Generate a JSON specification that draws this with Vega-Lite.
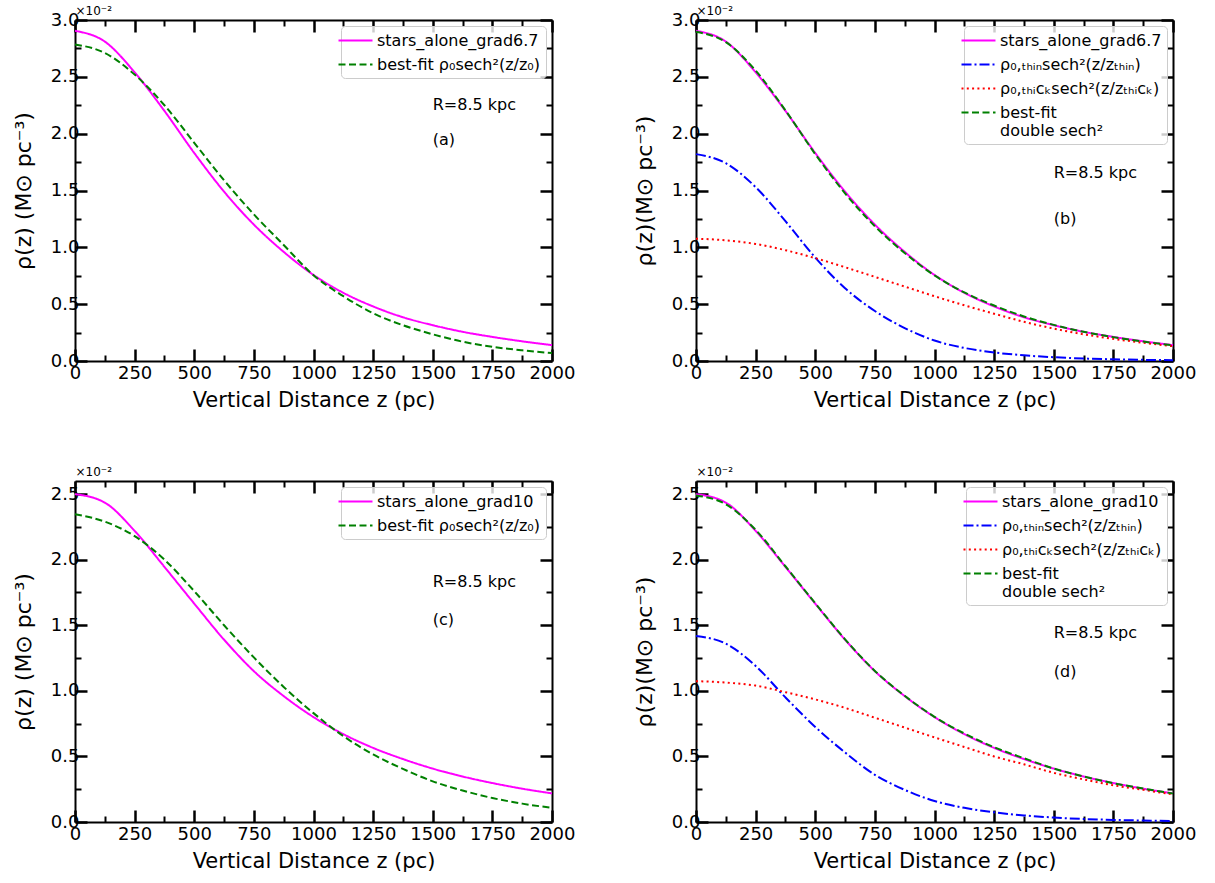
{
  "$schema": "https://vega.github.io/schema/vega-lite/v6.json",
  "padding": {"left": 12, "top": 4, "right": 5, "bottom": 5},
  "config": {
    "font": "DejaVu Sans",
    "view": {"stroke": null},
    "axis": {"grid": false, "domainColor": "black", "domainWidth": 2, "tickColor": "black", "labelColor": "black", "titleColor": "black", "titleFontWeight": "normal", "labelFontSize": 18, "titleFontSize": 21, "labelOverlap": false, "labelFlush": false},
    "legend": {"orient": "top-right", "offset": 6, "labelFontSize": 16, "labelColor": "black", "labelLimit": 400, "fillColor": "rgba(255,255,255,0.8)", "strokeColor": "#cccccc", "cornerRadius": 4, "padding": 5, "symbolType": "M-2,0H2", "symbolSize": 289, "symbolStrokeWidth": 2, "labelOffset": 12, "rowPadding": 6},
    "text": {"font": "DejaVu Sans"}
  },
  "datasets": {
    "curves": [
      {"p":"a","s":"m","z":0,"y":2.905},{"p":"a","s":"m","z":125,"y":2.81},{"p":"a","s":"m","z":250,"y":2.54},{"p":"a","s":"m","z":375,"y":2.2},{"p":"a","s":"m","z":500,"y":1.83},{"p":"a","s":"m","z":625,"y":1.49},{"p":"a","s":"m","z":750,"y":1.2},{"p":"a","s":"m","z":875,"y":0.96},{"p":"a","s":"m","z":1000,"y":0.757},{"p":"a","s":"m","z":1125,"y":0.6},{"p":"a","s":"m","z":1250,"y":0.48},{"p":"a","s":"m","z":1375,"y":0.385},{"p":"a","s":"m","z":1500,"y":0.315},{"p":"a","s":"m","z":1625,"y":0.257},{"p":"a","s":"m","z":1750,"y":0.212},{"p":"a","s":"m","z":1875,"y":0.173},{"p":"a","s":"m","z":2000,"y":0.14},
      {"p":"a","s":"g","z":0,"y":2.785},{"p":"a","s":"g","z":125,"y":2.71},{"p":"a","s":"g","z":250,"y":2.52},{"p":"a","s":"g","z":375,"y":2.25},{"p":"a","s":"g","z":500,"y":1.92},{"p":"a","s":"g","z":625,"y":1.59},{"p":"a","s":"g","z":750,"y":1.29},{"p":"a","s":"g","z":875,"y":1.02},{"p":"a","s":"g","z":1000,"y":0.755},{"p":"a","s":"g","z":1125,"y":0.57},{"p":"a","s":"g","z":1250,"y":0.42},{"p":"a","s":"g","z":1375,"y":0.315},{"p":"a","s":"g","z":1500,"y":0.235},{"p":"a","s":"g","z":1625,"y":0.17},{"p":"a","s":"g","z":1750,"y":0.125},{"p":"a","s":"g","z":1875,"y":0.094},{"p":"a","s":"g","z":2000,"y":0.07},
      {"p":"b","s":"m","z":0,"y":2.905},{"p":"b","s":"m","z":125,"y":2.81},{"p":"b","s":"m","z":250,"y":2.54},{"p":"b","s":"m","z":375,"y":2.2},{"p":"b","s":"m","z":500,"y":1.83},{"p":"b","s":"m","z":625,"y":1.49},{"p":"b","s":"m","z":750,"y":1.2},{"p":"b","s":"m","z":875,"y":0.96},{"p":"b","s":"m","z":1000,"y":0.757},{"p":"b","s":"m","z":1125,"y":0.6},{"p":"b","s":"m","z":1250,"y":0.48},{"p":"b","s":"m","z":1375,"y":0.385},{"p":"b","s":"m","z":1500,"y":0.315},{"p":"b","s":"m","z":1625,"y":0.257},{"p":"b","s":"m","z":1750,"y":0.212},{"p":"b","s":"m","z":1875,"y":0.173},{"p":"b","s":"m","z":2000,"y":0.14},
      {"p":"b","s":"t","z":0,"y":1.82},{"p":"b","s":"t","z":125,"y":1.74},{"p":"b","s":"t","z":250,"y":1.53},{"p":"b","s":"t","z":375,"y":1.23},{"p":"b","s":"t","z":500,"y":0.91},{"p":"b","s":"t","z":625,"y":0.64},{"p":"b","s":"t","z":750,"y":0.44},{"p":"b","s":"t","z":875,"y":0.29},{"p":"b","s":"t","z":1000,"y":0.18},{"p":"b","s":"t","z":1125,"y":0.115},{"p":"b","s":"t","z":1250,"y":0.075},{"p":"b","s":"t","z":1375,"y":0.05},{"p":"b","s":"t","z":1500,"y":0.033},{"p":"b","s":"t","z":1625,"y":0.022},{"p":"b","s":"t","z":1750,"y":0.015},{"p":"b","s":"t","z":1875,"y":0.01},{"p":"b","s":"t","z":2000,"y":0.007},
      {"p":"b","s":"k","z":0,"y":1.076},{"p":"b","s":"k","z":125,"y":1.062},{"p":"b","s":"k","z":250,"y":1.03},{"p":"b","s":"k","z":375,"y":0.975},{"p":"b","s":"k","z":500,"y":0.905},{"p":"b","s":"k","z":625,"y":0.825},{"p":"b","s":"k","z":750,"y":0.74},{"p":"b","s":"k","z":875,"y":0.655},{"p":"b","s":"k","z":1000,"y":0.57},{"p":"b","s":"k","z":1125,"y":0.49},{"p":"b","s":"k","z":1250,"y":0.416},{"p":"b","s":"k","z":1375,"y":0.345},{"p":"b","s":"k","z":1500,"y":0.285},{"p":"b","s":"k","z":1625,"y":0.235},{"p":"b","s":"k","z":1750,"y":0.195},{"p":"b","s":"k","z":1875,"y":0.16},{"p":"b","s":"k","z":2000,"y":0.13},
      {"p":"b","s":"g","z":0,"y":2.896},{"p":"b","s":"g","z":125,"y":2.805},{"p":"b","s":"g","z":250,"y":2.555},{"p":"b","s":"g","z":375,"y":2.205},{"p":"b","s":"g","z":500,"y":1.82},{"p":"b","s":"g","z":625,"y":1.475},{"p":"b","s":"g","z":750,"y":1.185},{"p":"b","s":"g","z":875,"y":0.95},{"p":"b","s":"g","z":1000,"y":0.753},{"p":"b","s":"g","z":1125,"y":0.603},{"p":"b","s":"g","z":1250,"y":0.488},{"p":"b","s":"g","z":1375,"y":0.392},{"p":"b","s":"g","z":1500,"y":0.318},{"p":"b","s":"g","z":1625,"y":0.257},{"p":"b","s":"g","z":1750,"y":0.21},{"p":"b","s":"g","z":1875,"y":0.171},{"p":"b","s":"g","z":2000,"y":0.138},
      {"p":"c","s":"m","z":0,"y":2.5},{"p":"c","s":"m","z":125,"y":2.435},{"p":"c","s":"m","z":250,"y":2.22},{"p":"c","s":"m","z":375,"y":1.945},{"p":"c","s":"m","z":500,"y":1.665},{"p":"c","s":"m","z":625,"y":1.39},{"p":"c","s":"m","z":750,"y":1.15},{"p":"c","s":"m","z":875,"y":0.96},{"p":"c","s":"m","z":1000,"y":0.8},{"p":"c","s":"m","z":1125,"y":0.67},{"p":"c","s":"m","z":1250,"y":0.565},{"p":"c","s":"m","z":1375,"y":0.48},{"p":"c","s":"m","z":1500,"y":0.407},{"p":"c","s":"m","z":1625,"y":0.347},{"p":"c","s":"m","z":1750,"y":0.297},{"p":"c","s":"m","z":1875,"y":0.254},{"p":"c","s":"m","z":2000,"y":0.218},
      {"p":"c","s":"g","z":0,"y":2.347},{"p":"c","s":"g","z":125,"y":2.29},{"p":"c","s":"g","z":250,"y":2.18},{"p":"c","s":"g","z":375,"y":2.0},{"p":"c","s":"g","z":500,"y":1.76},{"p":"c","s":"g","z":625,"y":1.5},{"p":"c","s":"g","z":750,"y":1.255},{"p":"c","s":"g","z":875,"y":1.03},{"p":"c","s":"g","z":1000,"y":0.83},{"p":"c","s":"g","z":1125,"y":0.655},{"p":"c","s":"g","z":1250,"y":0.515},{"p":"c","s":"g","z":1375,"y":0.405},{"p":"c","s":"g","z":1500,"y":0.31},{"p":"c","s":"g","z":1625,"y":0.24},{"p":"c","s":"g","z":1750,"y":0.183},{"p":"c","s":"g","z":1875,"y":0.14},{"p":"c","s":"g","z":2000,"y":0.108},
      {"p":"d","s":"m","z":0,"y":2.5},{"p":"d","s":"m","z":125,"y":2.435},{"p":"d","s":"m","z":250,"y":2.22},{"p":"d","s":"m","z":375,"y":1.945},{"p":"d","s":"m","z":500,"y":1.665},{"p":"d","s":"m","z":625,"y":1.39},{"p":"d","s":"m","z":750,"y":1.15},{"p":"d","s":"m","z":875,"y":0.96},{"p":"d","s":"m","z":1000,"y":0.8},{"p":"d","s":"m","z":1125,"y":0.67},{"p":"d","s":"m","z":1250,"y":0.565},{"p":"d","s":"m","z":1375,"y":0.48},{"p":"d","s":"m","z":1500,"y":0.407},{"p":"d","s":"m","z":1625,"y":0.347},{"p":"d","s":"m","z":1750,"y":0.297},{"p":"d","s":"m","z":1875,"y":0.254},{"p":"d","s":"m","z":2000,"y":0.218},
      {"p":"d","s":"t","z":0,"y":1.418},{"p":"d","s":"t","z":125,"y":1.36},{"p":"d","s":"t","z":250,"y":1.19},{"p":"d","s":"t","z":375,"y":0.95},{"p":"d","s":"t","z":500,"y":0.725},{"p":"d","s":"t","z":625,"y":0.53},{"p":"d","s":"t","z":750,"y":0.36},{"p":"d","s":"t","z":875,"y":0.245},{"p":"d","s":"t","z":1000,"y":0.16},{"p":"d","s":"t","z":1125,"y":0.108},{"p":"d","s":"t","z":1250,"y":0.074},{"p":"d","s":"t","z":1375,"y":0.05},{"p":"d","s":"t","z":1500,"y":0.034},{"p":"d","s":"t","z":1625,"y":0.023},{"p":"d","s":"t","z":1750,"y":0.016},{"p":"d","s":"t","z":1875,"y":0.011},{"p":"d","s":"t","z":2000,"y":0.007},
      {"p":"d","s":"k","z":0,"y":1.074},{"p":"d","s":"k","z":125,"y":1.063},{"p":"d","s":"k","z":250,"y":1.04},{"p":"d","s":"k","z":375,"y":0.99},{"p":"d","s":"k","z":500,"y":0.935},{"p":"d","s":"k","z":625,"y":0.87},{"p":"d","s":"k","z":750,"y":0.795},{"p":"d","s":"k","z":875,"y":0.72},{"p":"d","s":"k","z":1000,"y":0.645},{"p":"d","s":"k","z":1125,"y":0.572},{"p":"d","s":"k","z":1250,"y":0.5},{"p":"d","s":"k","z":1375,"y":0.44},{"p":"d","s":"k","z":1500,"y":0.375},{"p":"d","s":"k","z":1625,"y":0.325},{"p":"d","s":"k","z":1750,"y":0.28},{"p":"d","s":"k","z":1875,"y":0.245},{"p":"d","s":"k","z":2000,"y":0.21},
      {"p":"d","s":"g","z":0,"y":2.49},{"p":"d","s":"g","z":125,"y":2.423},{"p":"d","s":"g","z":250,"y":2.228},{"p":"d","s":"g","z":375,"y":1.95},{"p":"d","s":"g","z":500,"y":1.668},{"p":"d","s":"g","z":625,"y":1.393},{"p":"d","s":"g","z":750,"y":1.152},{"p":"d","s":"g","z":875,"y":0.962},{"p":"d","s":"g","z":1000,"y":0.802},{"p":"d","s":"g","z":1125,"y":0.675},{"p":"d","s":"g","z":1250,"y":0.57},{"p":"d","s":"g","z":1375,"y":0.486},{"p":"d","s":"g","z":1500,"y":0.408},{"p":"d","s":"g","z":1625,"y":0.347},{"p":"d","s":"g","z":1750,"y":0.296},{"p":"d","s":"g","z":1875,"y":0.255},{"p":"d","s":"g","z":2000,"y":0.217}
    ]
  },
  "columns": 2,
  "spacing": {"row": 120, "column": 144},
  "bounds": "flush",
  "resolve": {"scale": {"x": "independent", "y": "independent", "color": "independent", "strokeDash": "independent"}, "legend": {"color": "independent", "strokeDash": "independent"}, "axis": {"x": "independent", "y": "independent"}},
  "concat": [
    {
      "width": 477, "height": 341,
      "data": {"name": "curves"},
      "layer": [
        {
          "transform": [{"filter": "datum.p == 'a'"}],
          "mark": {"type": "line", "strokeWidth": 2, "interpolate": "monotone"},
          "encoding": {
            "x": {"field": "z", "type": "quantitative", "scale": {"domain": [0, 2000], "nice": false, "zero": false},
              "axis": {"orient": "bottom", "values": [0,125,250,375,500,625,750,875,1000,1125,1250,1375,1500,1625,1750,1875,2000], "format": "d", "labelExpr": "datum.value % 250 == 0 ? datum.label : ''", "tickSize": {"condition": {"test": "datum.value % 250 == 0", "value": -12}, "value": -6}, "tickWidth": {"condition": {"test": "datum.value % 250 == 0", "value": 2.5}, "value": 2}, "labelPadding": 15, "title": "Vertical Distance z (pc)", "titlePadding": 1}},
            "y": {"field": "y", "type": "quantitative", "scale": {"domain": [0, 3], "nice": false},
              "axis": {"orient": "left", "values": [0,0.25,0.5,0.75,1,1.25,1.5,1.75,2,2.25,2.5,2.75,3], "format": ".1f", "labelExpr": "round(datum.value*4) % 2 == 0 ? datum.label : ''", "tickSize": {"condition": {"test": "round(datum.value*4) % 2 == 0", "value": -12}, "value": -6}, "tickWidth": {"condition": {"test": "round(datum.value*4) % 2 == 0", "value": 2.5}, "value": 2}, "labelPadding": 8, "title": "ρ(z) (M⊙ pc⁻³)", "titleFontSize": 22, "titlePadding": 15}},
            "color": {"field": "s", "type": "nominal", "scale": {"domain": ["m", "g"], "range": ["#ff00ff", "#008000"]}, "legend": {"title": null, "labelExpr": "datum.value == 'm' ? 'stars_alone_grad6.7' : 'best-fit ρ₀sech²(z/z₀)'"}},
            "strokeDash": {"field": "s", "type": "nominal", "scale": {"domain": ["m", "g"], "range": [[1, 0], [7, 3.5]]}, "legend": {"title": null, "labelExpr": "datum.value == 'm' ? 'stars_alone_grad6.7' : 'best-fit ρ₀sech²(z/z₀)'"}}
          }
        },
        {
          "transform": [{"filter": "datum.p == 'a'"}],
          "mark": {"type": "point", "opacity": 0},
          "encoding": {
            "x": {"field": "z", "type": "quantitative", "axis": {"orient": "top", "values": [0,125,250,375,500,625,750,875,1000,1125,1250,1375,1500,1625,1750,1875,2000], "labels": false, "tickSize": {"condition": {"test": "datum.value % 250 == 0", "value": -12}, "value": -6}, "tickWidth": {"condition": {"test": "datum.value % 250 == 0", "value": 2.5}, "value": 2}, "title": "×10⁻²", "titleFontSize": 12, "titleAnchor": "start", "titlePadding": 1}},
            "y": {"field": "y", "type": "quantitative", "axis": {"orient": "right", "values": [0,0.25,0.5,0.75,1,1.25,1.5,1.75,2,2.25,2.5,2.75,3], "labels": false, "tickSize": {"condition": {"test": "round(datum.value*4) % 2 == 0", "value": -12}, "value": -6}, "tickWidth": {"condition": {"test": "round(datum.value*4) % 2 == 0", "value": 2.5}, "value": 2}, "title": null}}
          }
        },
        {
          "data": {"values": [{"z": 1500, "y": 2.25, "t": "R=8.5 kpc"}, {"z": 1500, "y": 1.94, "t": "(a)"}]},
          "mark": {"type": "text", "align": "left", "baseline": "middle", "fontSize": 16, "color": "black"},
          "encoding": {"x": {"field": "z", "type": "quantitative", "axis": null}, "y": {"field": "y", "type": "quantitative", "axis": null}, "text": {"field": "t"}}
        }
      ],
      "resolve": {"axis": {"x": "independent", "y": "independent"}}
    },
    {
      "width": 477, "height": 341,
      "data": {"name": "curves"},
      "layer": [
        {
          "transform": [{"filter": "datum.p == 'b'"}],
          "mark": {"type": "line", "strokeWidth": 2, "interpolate": "monotone"},
          "encoding": {
            "x": {"field": "z", "type": "quantitative", "scale": {"domain": [0, 2000], "nice": false, "zero": false},
              "axis": {"orient": "bottom", "values": [0,125,250,375,500,625,750,875,1000,1125,1250,1375,1500,1625,1750,1875,2000], "format": "d", "labelExpr": "datum.value % 250 == 0 ? datum.label : ''", "tickSize": {"condition": {"test": "datum.value % 250 == 0", "value": -12}, "value": -6}, "tickWidth": {"condition": {"test": "datum.value % 250 == 0", "value": 2.5}, "value": 2}, "labelPadding": 15, "title": "Vertical Distance z (pc)", "titlePadding": 1}},
            "y": {"field": "y", "type": "quantitative", "scale": {"domain": [0, 3], "nice": false},
              "axis": {"orient": "left", "values": [0,0.25,0.5,0.75,1,1.25,1.5,1.75,2,2.25,2.5,2.75,3], "format": ".1f", "labelExpr": "round(datum.value*4) % 2 == 0 ? datum.label : ''", "tickSize": {"condition": {"test": "round(datum.value*4) % 2 == 0", "value": -12}, "value": -6}, "tickWidth": {"condition": {"test": "round(datum.value*4) % 2 == 0", "value": 2.5}, "value": 2}, "labelPadding": 8, "title": "ρ(z)(M⊙ pc⁻³)", "titleFontSize": 22, "titlePadding": 15}},
            "color": {"field": "s", "type": "nominal", "scale": {"domain": ["m", "t", "k", "g"], "range": ["#ff00ff", "#0000ff", "#ff0000", "#008000"]}, "legend": {"title": null, "labelExpr": "datum.value == 'm' ? 'stars_alone_grad6.7' : datum.value == 't' ? 'ρ₀,ₜₕᵢₙsech²(z/zₜₕᵢₙ)' : datum.value == 'k' ? 'ρ₀,ₜₕᵢcₖsech²(z/zₜₕᵢcₖ)' : ['best-fit', 'double sech²']"}},
            "strokeDash": {"field": "s", "type": "nominal", "scale": {"domain": ["m", "t", "k", "g"], "range": [[1, 0], [10, 3, 2, 3], [2, 3.3], [7, 3.5]]}, "legend": {"title": null, "labelExpr": "datum.value == 'm' ? 'stars_alone_grad6.7' : datum.value == 't' ? 'ρ₀,ₜₕᵢₙsech²(z/zₜₕᵢₙ)' : datum.value == 'k' ? 'ρ₀,ₜₕᵢcₖsech²(z/zₜₕᵢcₖ)' : ['best-fit', 'double sech²']"}}
          }
        },
        {
          "transform": [{"filter": "datum.p == 'b'"}],
          "mark": {"type": "point", "opacity": 0},
          "encoding": {
            "x": {"field": "z", "type": "quantitative", "axis": {"orient": "top", "values": [0,125,250,375,500,625,750,875,1000,1125,1250,1375,1500,1625,1750,1875,2000], "labels": false, "tickSize": {"condition": {"test": "datum.value % 250 == 0", "value": -12}, "value": -6}, "tickWidth": {"condition": {"test": "datum.value % 250 == 0", "value": 2.5}, "value": 2}, "title": "×10⁻²", "titleFontSize": 12, "titleAnchor": "start", "titlePadding": 1}},
            "y": {"field": "y", "type": "quantitative", "axis": {"orient": "right", "values": [0,0.25,0.5,0.75,1,1.25,1.5,1.75,2,2.25,2.5,2.75,3], "labels": false, "tickSize": {"condition": {"test": "round(datum.value*4) % 2 == 0", "value": -12}, "value": -6}, "tickWidth": {"condition": {"test": "round(datum.value*4) % 2 == 0", "value": 2.5}, "value": 2}, "title": null}}
          }
        },
        {
          "data": {"values": [{"z": 1500, "y": 1.65, "t": "R=8.5 kpc"}, {"z": 1500, "y": 1.25, "t": "(b)"}]},
          "mark": {"type": "text", "align": "left", "baseline": "middle", "fontSize": 16, "color": "black"},
          "encoding": {"x": {"field": "z", "type": "quantitative", "axis": null}, "y": {"field": "y", "type": "quantitative", "axis": null}, "text": {"field": "t"}}
        }
      ],
      "resolve": {"axis": {"x": "independent", "y": "independent"}}
    },
    {
      "width": 477, "height": 341,
      "data": {"name": "curves"},
      "layer": [
        {
          "transform": [{"filter": "datum.p == 'c'"}],
          "mark": {"type": "line", "strokeWidth": 2, "interpolate": "monotone"},
          "encoding": {
            "x": {"field": "z", "type": "quantitative", "scale": {"domain": [0, 2000], "nice": false, "zero": false},
              "axis": {"orient": "bottom", "values": [0,125,250,375,500,625,750,875,1000,1125,1250,1375,1500,1625,1750,1875,2000], "format": "d", "labelExpr": "datum.value % 250 == 0 ? datum.label : ''", "tickSize": {"condition": {"test": "datum.value % 250 == 0", "value": -12}, "value": -6}, "tickWidth": {"condition": {"test": "datum.value % 250 == 0", "value": 2.5}, "value": 2}, "labelPadding": 15, "title": "Vertical Distance z (pc)", "titlePadding": 1}},
            "y": {"field": "y", "type": "quantitative", "scale": {"domain": [0, 2.6], "nice": false},
              "axis": {"orient": "left", "values": [0,0.25,0.5,0.75,1,1.25,1.5,1.75,2,2.25,2.5], "format": ".1f", "labelExpr": "round(datum.value*4) % 2 == 0 ? datum.label : ''", "tickSize": {"condition": {"test": "round(datum.value*4) % 2 == 0", "value": -12}, "value": -6}, "tickWidth": {"condition": {"test": "round(datum.value*4) % 2 == 0", "value": 2.5}, "value": 2}, "labelPadding": 8, "title": "ρ(z) (M⊙ pc⁻³)", "titleFontSize": 22, "titlePadding": 15}},
            "color": {"field": "s", "type": "nominal", "scale": {"domain": ["m", "g"], "range": ["#ff00ff", "#008000"]}, "legend": {"title": null, "labelExpr": "datum.value == 'm' ? 'stars_alone_grad10' : 'best-fit ρ₀sech²(z/z₀)'"}},
            "strokeDash": {"field": "s", "type": "nominal", "scale": {"domain": ["m", "g"], "range": [[1, 0], [7, 3.5]]}, "legend": {"title": null, "labelExpr": "datum.value == 'm' ? 'stars_alone_grad10' : 'best-fit ρ₀sech²(z/z₀)'"}}
          }
        },
        {
          "transform": [{"filter": "datum.p == 'c'"}],
          "mark": {"type": "point", "opacity": 0},
          "encoding": {
            "x": {"field": "z", "type": "quantitative", "axis": {"orient": "top", "values": [0,125,250,375,500,625,750,875,1000,1125,1250,1375,1500,1625,1750,1875,2000], "labels": false, "tickSize": {"condition": {"test": "datum.value % 250 == 0", "value": -12}, "value": -6}, "tickWidth": {"condition": {"test": "datum.value % 250 == 0", "value": 2.5}, "value": 2}, "title": "×10⁻²", "titleFontSize": 12, "titleAnchor": "start", "titlePadding": 1}},
            "y": {"field": "y", "type": "quantitative", "axis": {"orient": "right", "values": [0,0.25,0.5,0.75,1,1.25,1.5,1.75,2,2.25,2.5], "labels": false, "tickSize": {"condition": {"test": "round(datum.value*4) % 2 == 0", "value": -12}, "value": -6}, "tickWidth": {"condition": {"test": "round(datum.value*4) % 2 == 0", "value": 2.5}, "value": 2}, "title": null}}
          }
        },
        {
          "data": {"values": [{"z": 1500, "y": 1.83, "t": "R=8.5 kpc"}, {"z": 1500, "y": 1.54, "t": "(c)"}]},
          "mark": {"type": "text", "align": "left", "baseline": "middle", "fontSize": 16, "color": "black"},
          "encoding": {"x": {"field": "z", "type": "quantitative", "axis": null}, "y": {"field": "y", "type": "quantitative", "axis": null}, "text": {"field": "t"}}
        }
      ],
      "resolve": {"axis": {"x": "independent", "y": "independent"}}
    },
    {
      "width": 477, "height": 341,
      "data": {"name": "curves"},
      "layer": [
        {
          "transform": [{"filter": "datum.p == 'd'"}],
          "mark": {"type": "line", "strokeWidth": 2, "interpolate": "monotone"},
          "encoding": {
            "x": {"field": "z", "type": "quantitative", "scale": {"domain": [0, 2000], "nice": false, "zero": false},
              "axis": {"orient": "bottom", "values": [0,125,250,375,500,625,750,875,1000,1125,1250,1375,1500,1625,1750,1875,2000], "format": "d", "labelExpr": "datum.value % 250 == 0 ? datum.label : ''", "tickSize": {"condition": {"test": "datum.value % 250 == 0", "value": -12}, "value": -6}, "tickWidth": {"condition": {"test": "datum.value % 250 == 0", "value": 2.5}, "value": 2}, "labelPadding": 15, "title": "Vertical Distance z (pc)", "titlePadding": 1}},
            "y": {"field": "y", "type": "quantitative", "scale": {"domain": [0, 2.6], "nice": false},
              "axis": {"orient": "left", "values": [0,0.25,0.5,0.75,1,1.25,1.5,1.75,2,2.25,2.5], "format": ".1f", "labelExpr": "round(datum.value*4) % 2 == 0 ? datum.label : ''", "tickSize": {"condition": {"test": "round(datum.value*4) % 2 == 0", "value": -12}, "value": -6}, "tickWidth": {"condition": {"test": "round(datum.value*4) % 2 == 0", "value": 2.5}, "value": 2}, "labelPadding": 8, "title": "ρ(z)(M⊙ pc⁻³)", "titleFontSize": 22, "titlePadding": 15}},
            "color": {"field": "s", "type": "nominal", "scale": {"domain": ["m", "t", "k", "g"], "range": ["#ff00ff", "#0000ff", "#ff0000", "#008000"]}, "legend": {"title": null, "labelExpr": "datum.value == 'm' ? 'stars_alone_grad10' : datum.value == 't' ? 'ρ₀,ₜₕᵢₙsech²(z/zₜₕᵢₙ)' : datum.value == 'k' ? 'ρ₀,ₜₕᵢcₖsech²(z/zₜₕᵢcₖ)' : ['best-fit', 'double sech²']"}},
            "strokeDash": {"field": "s", "type": "nominal", "scale": {"domain": ["m", "t", "k", "g"], "range": [[1, 0], [10, 3, 2, 3], [2, 3.3], [7, 3.5]]}, "legend": {"title": null, "labelExpr": "datum.value == 'm' ? 'stars_alone_grad10' : datum.value == 't' ? 'ρ₀,ₜₕᵢₙsech²(z/zₜₕᵢₙ)' : datum.value == 'k' ? 'ρ₀,ₜₕᵢcₖsech²(z/zₜₕᵢcₖ)' : ['best-fit', 'double sech²']"}}
          }
        },
        {
          "transform": [{"filter": "datum.p == 'd'"}],
          "mark": {"type": "point", "opacity": 0},
          "encoding": {
            "x": {"field": "z", "type": "quantitative", "axis": {"orient": "top", "values": [0,125,250,375,500,625,750,875,1000,1125,1250,1375,1500,1625,1750,1875,2000], "labels": false, "tickSize": {"condition": {"test": "datum.value % 250 == 0", "value": -12}, "value": -6}, "tickWidth": {"condition": {"test": "datum.value % 250 == 0", "value": 2.5}, "value": 2}, "title": "×10⁻²", "titleFontSize": 12, "titleAnchor": "start", "titlePadding": 1}},
            "y": {"field": "y", "type": "quantitative", "axis": {"orient": "right", "values": [0,0.25,0.5,0.75,1,1.25,1.5,1.75,2,2.25,2.5], "labels": false, "tickSize": {"condition": {"test": "round(datum.value*4) % 2 == 0", "value": -12}, "value": -6}, "tickWidth": {"condition": {"test": "round(datum.value*4) % 2 == 0", "value": 2.5}, "value": 2}, "title": null}}
          }
        },
        {
          "data": {"values": [{"z": 1500, "y": 1.44, "t": "R=8.5 kpc"}, {"z": 1500, "y": 1.14, "t": "(d)"}]},
          "mark": {"type": "text", "align": "left", "baseline": "middle", "fontSize": 16, "color": "black"},
          "encoding": {"x": {"field": "z", "type": "quantitative", "axis": null}, "y": {"field": "y", "type": "quantitative", "axis": null}, "text": {"field": "t"}}
        }
      ],
      "resolve": {"axis": {"x": "independent", "y": "independent"}}
    }
  ]
}
